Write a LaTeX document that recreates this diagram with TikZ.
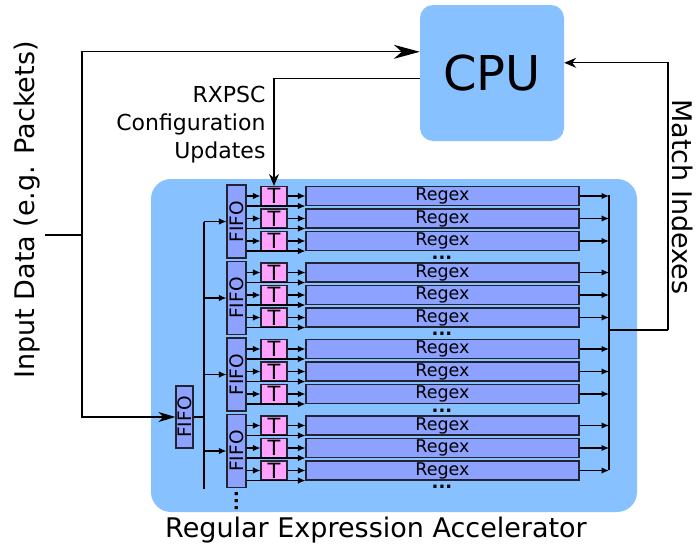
\documentclass[tikz,border=0pt]{standalone}
\usepackage{fontspec}
\setmainfont{DejaVu Sans}
\usepackage{xcolor}
\usetikzlibrary{arrows.meta,positioning,calc}

\definecolor{accblue}{RGB}{135,193,255}
\definecolor{regblue}{RGB}{141,162,255}
\definecolor{tpink}{RGB}{255,162,255}
\definecolor{edgegray}{RGB}{35,35,50}

\tikzset{
	unitbox/.style={draw=edgegray,line width=1.1pt,fill=regblue,inner sep=0pt,minimum height=19pt},
	regexbox/.style={unitbox,minimum width=273pt,font=\fontsize{17.5}{17.5}\selectfont},
	tbox/.style={unitbox,fill=tpink,minimum width=26pt,font=\fontsize{21}{21}\selectfont},
	fifobox/.style={unitbox,minimum width=19pt,minimum height=73pt,font=\fontsize{18.5}{18.5}\selectfont},
	wire/.style={line width=1.2pt,-{Latex[length=7.5pt,width=6.5pt]}},
	bigtext/.style={font=\fontsize{27}{27}\selectfont},
	dotstext/.style={font=\fontsize{18}{18}\selectfont\bfseries,anchor=base,inner sep=0pt,text height=3pt}
}

\begin{document}
\begin{tikzpicture}[x=1pt,y=-1pt]
		\useasboundingbox (0,0) rectangle (696,546);
		% accelerator and cpu
		\fill[accblue,rounded corners=20pt] (151,179) rectangle (637,512);
		\node[bigtext] (acclabel) at (376,530) {Regular Expression Accelerator};
		\node[fill=accblue,rounded corners=13pt,minimum width=144pt,minimum height=136pt,
			font=\fontsize{48}{48}\selectfont] (cpu) at (492,73) {CPU};
		% labels
		\node[bigtext,rotate=90] (inlabel) at (27,210) {Input Data (e.g. Packets)};
		\node[bigtext,rotate=-90] (matchlabel) at (683,197) {Match Indexes};
		\node[align=right,anchor=east,font=\fontsize{22}{28}\selectfont] (cfglabel) at (269,125)
			{RXPSC\\Configuration\\Updates};
		% branch and collector lines
		\coordinate (inp) at (45,235);
		\coordinate (inpsplit) at (82,235);
		\coordinate (branchtop) at (204,221.5);
		\coordinate (branchend) at (204,489);
		\coordinate (colltop) at (609,195);
		\coordinate (collbot) at (609,470);
		\coordinate (collout) at (609,330);
		\coordinate (matchturn) at (668,330);
		\node[fifobox,minimum width=17pt,minimum height=62pt] (fifo-in) at (184.5,417) {\rotatebox{90}{FIFO}};
		\draw[line width=1.3pt] (branchtop) -- (branchend);
		\draw[line width=1.3pt] (colltop) -- (collbot);
		\draw[line width=1.3pt] (fifo-in.east) -- (fifo-in.east -| branchtop);
		% units
		\foreach \g in {0,...,3}{
			\pgfmathsetmacro\gy{186+76.5*\g}
			\node[fifobox] (fifo-\g) at (236.5,\gy+35.5) {\rotatebox{90}{FIFO}};
			\draw[wire] (fifo-\g.west -| branchtop) -- (fifo-\g.west);
			\foreach \k in {0,1,2}{
				\pgfmathsetmacro\ry{196+76.5*\g+22.5*\k}
				\node[regexbox] (re-\g-\k) at (442.5,\ry) {Regex};
				\node[tbox] (t-\g-\k) at (274,\ry) {T};
				\draw[wire] (t-\g-\k.west -| fifo-\g.east) -- (t-\g-\k.west);
				\draw[wire] (t-\g-\k.east) -- (re-\g-\k.west);
				\draw[wire] (re-\g-\k.south west -| fifo-\g.east) -- (re-\g-\k.south west);
				\draw[wire] (re-\g-\k.east) -- (re-\g-\k.east -| colltop);
			}
			\node[dotstext] (dots-\g) at (442,\gy+73) {...};
		}
		\node[dotstext,rotate=90] (vdots) at (238.5,501) {...};
		% input, cpu and match connections
		\draw[line width=1.3pt] (inp) -- (inpsplit);
		\draw[line width=1.3pt,-{Stealth[length=26pt,width=14pt,inset=8pt]}] (inpsplit) |- ($(cpu.north west)+(0,47)$);
		\draw[line width=1.3pt,-{Stealth[length=17pt,width=10pt,inset=5pt]}] (inpsplit) |- (fifo-in.west);
		\draw[line width=1.3pt,-{Stealth[length=12pt,width=10pt,inset=4pt]}] ($(cpu.north west)+(0,74)$) -| (t-0-0.north);
		\draw[line width=1.3pt] (collout) -- (matchturn);
		\draw[line width=1.3pt,-{Stealth[length=12pt,width=10pt,inset=4pt]}] (matchturn) |- ($(cpu.north east)+(0,58)$);
	\end{tikzpicture}
\end{document}
